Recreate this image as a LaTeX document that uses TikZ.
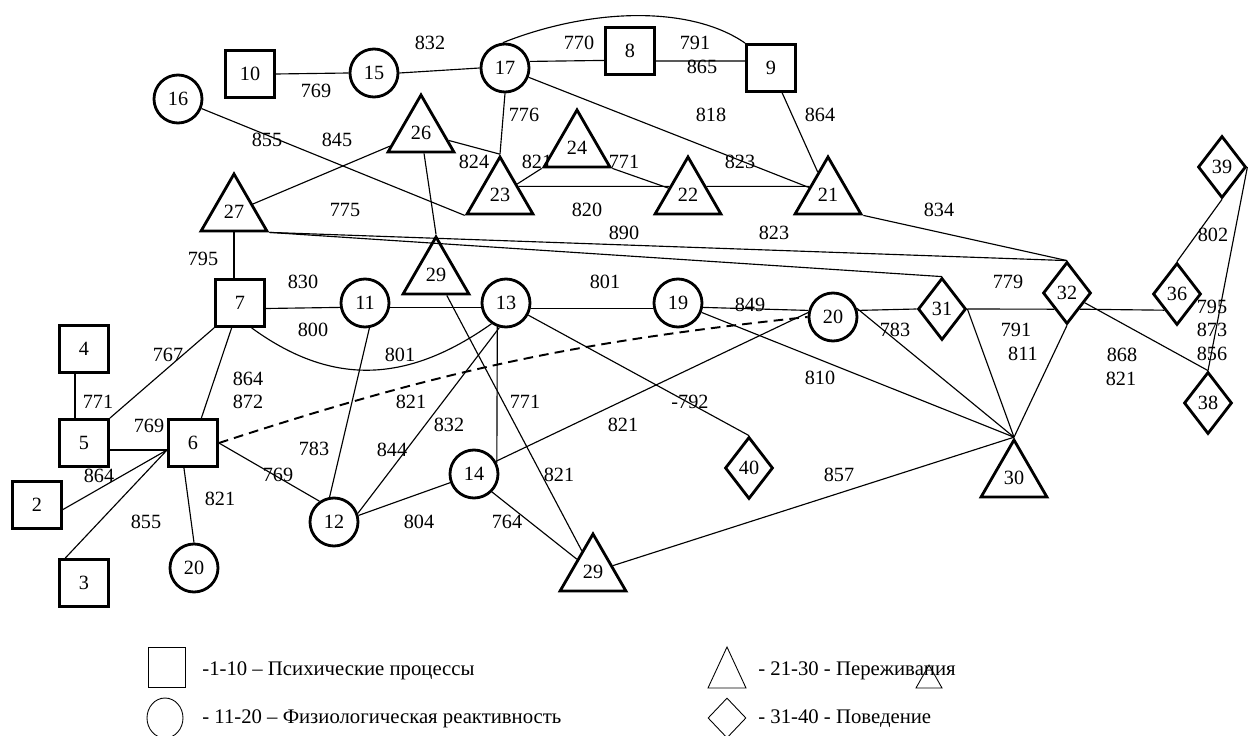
\documentclass[tikz,border=0pt]{standalone}
\usepackage{fontspec}
\setmainfont{Liberation Serif}
\usetikzlibrary{shapes.geometric,positioning,calc}

\begin{document}
\begin{tikzpicture}[
    x=0.02cm, y=-0.02cm,
    every node/.style={font=\fontsize{11.5}{13}\selectfont, inner sep=0pt},
    proc/.style={draw, line width=1.6pt, minimum width=0.98cm, minimum height=0.94cm},
    phys/.style={draw, circle, line width=1.6pt, minimum size=0.96cm},
    feel/.style={draw, regular polygon, regular polygon sides=3, line width=1.6pt, minimum size=1.52cm},
    act/.style={draw, diamond, line width=1.6pt, minimum width=0.96cm, minimum height=1.24cm},
    link/.style={draw, line width=0.65pt},
    keytext/.style={anchor=west, font=\fontsize{11.8}{13}\selectfont}
]
\useasboundingbox (0,0) rectangle (1249,736);

% ---------------- Psychic processes ----------------
\node[proc] (s10) at (250,74) {10};
\node[proc] (s8) at (630,51) {8};
\node[proc] (s9) at (771,68) {9};
\node[proc] (s7) at (240,303) {7};
\node[proc] (s4) at (84,349) {4};
\node[proc] (s5) at (84,443) {5};
\node[proc] (s6) at (193,443) {6};
\node[proc] (s2) at (37,505) {2};
\node[proc] (s3) at (84,583) {3};

% ---------------- Physiological reactivity ----------------
\node[phys] (c16) at (178,99) {16};
\node[phys] (c15) at (374,73) {15};
\node[phys] (c17) at (505,68) {17};
\node[phys] (c11) at (365,303) {11};
\node[phys] (c13) at (506,303) {13};
\node[phys] (c19) at (678,303) {19};
\node[phys] (c20) at (833,317) {20};
\node[phys] (c12) at (334,522) {12};
\node[phys] (c14) at (474,474) {14};
\node[phys] (c20b) at (194,568) {20};

% ---------------- Experiences ----------------
\node[feel] (t26) at (421,133) {26};
\node[feel] (t24) at (577,148) {24};
\node[feel] (t23) at (500,195) {23};
\node[feel] (t22) at (688,195) {22};
\node[feel] (t21) at (828,195) {21};
\node[feel] (t27) at (234,212) {27};
\node[feel] (t29a) at (436,275) {29};
\node[feel] (t29b) at (593,572) {29};
\node[feel] (t30) at (1014,478) {30};

% ---------------- Behaviour ----------------
\node[act] (d31) at (942,309) {31};
\node[act] (d32) at (1067,293) {32};
\node[act] (d36) at (1177,294) {36};
\node[act] (d39) at (1222,167) {39};
\node[act] (d38) at (1208,403) {38};
\node[act] (d40) at (749,468) {40};

% ---------------- Links, top part ----------------
\draw[link] (s10.east) -- (c15.west);
\draw[link] (c15.east) -- (c17.west);
\draw[link] (c17.15) -- (s8.200);
\draw[link] (s8.-21) -- (s9.165);
\draw[link] (c17.95) .. controls (590,8) and (690,5) .. (s9.north west);
\draw[link] (c17.south) -- (t23.corner 1);
\draw[link] (c17) -- (t21);
\draw[link] (s9) -- (t21);
\draw[link] (t26) -- (t23.corner 1);
\draw[link] (t24.corner 2) -- (t23);
\draw[link] (t24.corner 3) -- (t22);
\draw[link] (t23.25) -- (t22.155);
\draw[link] (t22.25) -- (t21.155);
\draw[link] (c16) -- (t23.corner 2);
\draw[link] (t27) -- (t26);
\draw[link] (t26) -- (t29a.corner 1);
\draw[link] (t29a) -- (t29b);
\draw[link] (t27.south) -- (s7.north -| t27.south);
\draw[link] (t27.corner 3) -- (d32.north);
\draw[link] (t27.corner 3) -- (d31.north);
\draw[link] (t21.corner 3) -- (d32.north);

% ---------------- Links, middle row ----------------
\draw[link] (s7.-12) -- (c11.190);
\draw[link] (c11.-10) -- (c13.190);
\draw[link] (c13.-12) -- (c19.192);
\draw[link] (c19.-10) -- (c20.165);
\draw[link] (c20.15) -- (d31.west);
\draw[link] (d31.east) -- (d32.south west);
\draw[link] (d32.south east) -- (d36.south west);
\draw[link] (s7.-65) .. controls (330,385) and (405,385) .. (c13.235);
\draw[link, dashed, dash pattern=on 5.5pt off 3.5pt, line width=1.1pt]
    (s6.east) to[bend left=6] (c20.west);

% ---------------- Links, left group ----------------
\draw[link] (s4.-110) -- (s5.110);
\draw[link] (s5.north east) -- (s7.south west);
\draw[link] (s6) -- (s7);
\draw[link] (s5.-15) -- (s6.195);
\draw[link] (s2.-10) -- (s6.195);
\draw[link] (s3.127) -- (s6.195);
\draw[link] (s6.-110) -- (c20b.north);
\draw[link] (s6.east) -- (c12.125);
\draw[link] (c11.-80) -- (c12.100);
\draw[link] (c12.20) -- (c13.-105);
\draw[link] (c12.15) -- (c14.200);
\draw[link] (c13.-110) -- (c14.26);
\draw[link] (c14.30) -- (c20.170);
\draw[link] (c14.-45) -- (t29b);
\draw[link] (c13) -- (d40.north);

% ---------------- Links, right group ----------------
\draw[link] (c19) -- (t30.corner 1);
\draw[link] (c20.20) -- (t30.corner 1);
\draw[link] (d31.east) -- (t30.corner 1);
\draw[link] (d32.south) -- (t30.corner 1);
\draw[link] (t29b) -- (t30.corner 1);
\draw[link] (d32) -- (d38.north);
\draw[link] (d36.north) -- (d39.south);
\draw[link] (d39.east) -- (d38.north);

% ---------------- Weights ----------------
\node (w769a) at (316,91) {769};
\node (w832a) at (430,43) {832};
\node (w770) at (579,43) {770};
\node (w791a) at (695,43) {791};
\node (w865) at (702,67) {865};
\node (w776) at (524,115) {776};
\node (w818) at (711,115) {818};
\node (w864a) at (820,115) {864};
\node (w855a) at (267,140) {855};
\node (w845) at (337,140) {845};
\node (w824) at (474,162) {824};
\node (w821a) at (537,162) {821};
\node (w771a) at (624,162) {771};
\node (w823a) at (740,162) {823};
\node (w820) at (587,210) {820};
\node (w775) at (345,210) {775};
\node (w834) at (939,210) {834};
\node (w890) at (624,233) {890};
\node (w823b) at (774,233) {823};
\node (w795a) at (203,259) {795};
\node (w830) at (303,282) {830};
\node (w801a) at (605,282) {801};
\node (w779) at (1008,282) {779};
\node (w849) at (750,305) {849};
\node (w800) at (313,330) {800};
\node (w783a) at (895,330) {783};
\node (w791b) at (1016,330) {791};
\node (w801b) at (400,355) {801};
\node (w811) at (1023,354) {811};
\node (w868) at (1122,355) {868};
\node (w821b) at (1121,379) {821};
\node (w795b) at (1212,307) {795};
\node (w873) at (1212,330) {873};
\node (w856) at (1212,354) {856};
\node (w802) at (1213,235) {802};
\node (w810) at (820,378) {810};
\node (w767) at (168,355) {767};
\node (w864b) at (248,379) {864};
\node (w872) at (248,402) {872};
\node (w771b) at (98,402) {771};
\node (w821c) at (411,402) {821};
\node (w771c) at (525,402) {771};
\node (w792) at (690,402) {-792};
\node (w769b) at (149,426) {769};
\node (w832b) at (449,425) {832};
\node (w821d) at (623,425) {821};
\node (w783b) at (314,449) {783};
\node (w844) at (392,450) {844};
\node (w769c) at (278,475) {769};
\node (w864c) at (99,476) {864};
\node (w821e) at (559,475) {821};
\node (w857) at (839,475) {857};
\node (w821f) at (220,499) {821};
\node (w855b) at (146,522) {855};
\node (w804) at (419,522) {804};
\node (w764) at (507,522) {764};

% ---------------- Legend ----------------
\node[draw, line width=0.5pt, minimum width=0.74cm, minimum height=0.8cm] (k1) at (167,667) {};
\node[keytext] (k1t) at (202,671) {-1-10 – Психические процессы};
\node[draw, ellipse, line width=0.5pt, minimum width=0.72cm, minimum height=0.8cm] (k2) at (165,718) {};
\node[keytext] (k2t) at (202,719) {- 11-20 – Физиологическая реактивность};
\draw[line width=0.5pt] (708,688) -- (727,647) -- (746,688) -- cycle;
\node[keytext] (k3t) at (758,671) {- 21-30 - Переживания};
\draw[line width=0.5pt] (916,688) -- (929,665) -- (942,688) -- cycle;
\node[draw, diamond, line width=0.5pt, minimum width=0.76cm, minimum height=0.8cm] (k4) at (727,718) {};
\node[keytext] (k4t) at (758,719) {- 31-40 - Поведение};

\end{tikzpicture}
\end{document}
